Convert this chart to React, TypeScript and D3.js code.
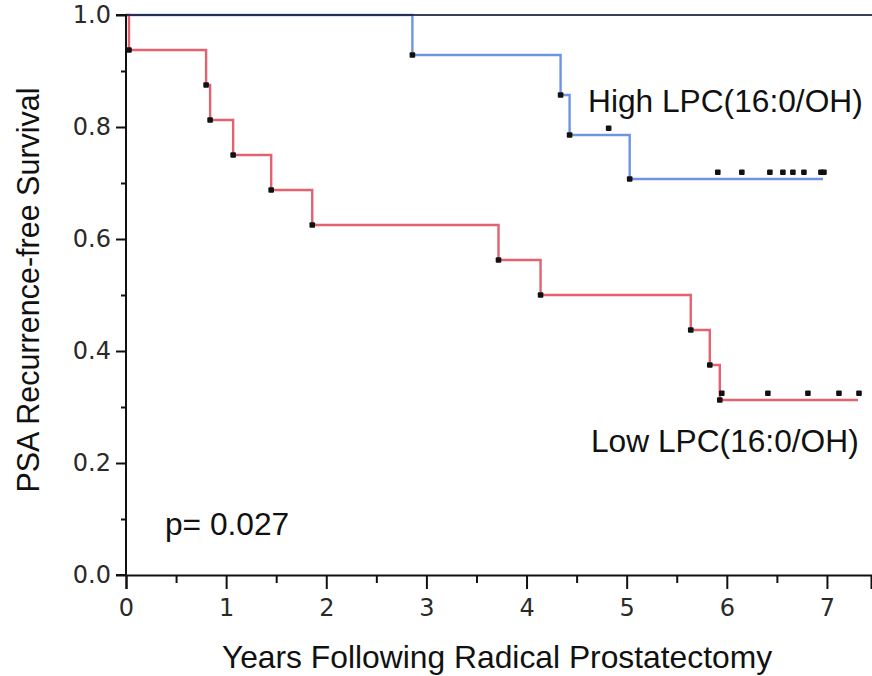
import React, { useEffect, useRef } from 'react';
import * as d3 from 'd3';

// Kaplan-Meier data
const highEventTimes = [2.86, 4.34, 4.43, 5.03];
const highSurvival = [0.9286, 0.8571, 0.7857, 0.7071];
const highCensorTimes = [4.82, 5.91, 6.15, 6.43, 6.56, 6.66, 6.77, 6.94, 6.97];
const highEnd = 6.96;

const lowEventTimes = [0.03, 0.8, 0.84, 1.07, 1.45, 1.86, 3.72, 4.14, 5.64, 5.83, 5.93];
const lowSurvival = [0.9375, 0.875, 0.8125, 0.75, 0.6875, 0.625, 0.5625, 0.5, 0.4375, 0.375, 0.3125];
const lowCensorTimes = [5.95, 6.41, 6.81, 7.12, 7.32];
const lowEnd = 7.31;

const xTicks = [0, 1, 2, 3, 4, 5, 6, 7];
const xMinorTicks = [0.5, 1.5, 2.5, 3.5, 4.5, 5.5, 6.5];
const yTicks = [0, 0.2, 0.4, 0.6, 0.8, 1.0];
const yMinorTicks = [0.1, 0.3, 0.5, 0.7, 0.9];

const W = 872;
const H = 676;

const App = () => {
  const svgRef = useRef<SVGSVGElement | null>(null);

  useEffect(() => {
    if (!svgRef.current) return;
    const svg = d3.select(svgRef.current);
    svg.selectAll('*').remove();

    const x = d3.scaleLinear().domain([0, 7.44]).range([126, 871]);
    const y = d3.scaleLinear().domain([0, 1]).range([575, 15]);

    const levelAt = (times: number[], surv: number[], t: number) => {
      let s = 1;
      times.forEach((tt, i) => { if (tt <= t) s = surv[i]; });
      return s;
    };

    const stepPoints = (times: number[], surv: number[], end: number) => {
      const pts: [number, number][] = [[0, 1]];
      times.forEach((t, i) => pts.push([t, surv[i]]));
      pts.push([end, surv[surv.length - 1]]);
      return pts;
    };

    const line = d3.line<[number, number]>()
      .x(d => x(d[0]))
      .y(d => y(d[1]))
      .curve(d3.curveStepAfter);

    const groups = [
      { times: highEventTimes, surv: highSurvival, cens: highCensorTimes, end: highEnd, color: '#6f94e6' },
      { times: lowEventTimes, surv: lowSurvival, cens: lowCensorTimes, end: lowEnd, color: '#e3626f' }
    ];

    groups.forEach(g => {
      svg.append('path')
        .attr('d', line(stepPoints(g.times, g.surv, g.end)))
        .attr('fill', 'none')
        .attr('stroke', g.color)
        .attr('stroke-width', 2.4);
    });

    // top frame line
    svg.append('line')
      .attr('x1', x(0)).attr('x2', W)
      .attr('y1', y(1)).attr('y2', y(1))
      .attr('stroke', '#1a1f3a')
      .attr('stroke-opacity', 0.85)
      .attr('stroke-width', 2);

    // axes
    const axisFont = '"DejaVu Sans", Verdana, sans-serif';
    const yAxis = svg.append('g')
      .attr('transform', `translate(${x(0)},0)`)
      .call(d3.axisLeft(y).tickValues(yTicks).tickFormat(d3.format('.1f')).tickSize(10).tickPadding(5));
    svg.append('g')
      .attr('transform', `translate(${x(0)},0)`)
      .call(d3.axisLeft(y).tickValues(yMinorTicks).tickFormat(() => '').tickSize(5))
      .call(g => g.select('.domain').remove());

    const xAxis = svg.append('g')
      .attr('transform', `translate(0,${y(0)})`)
      .call(d3.axisBottom(x).tickValues(xTicks).tickFormat(d3.format('d')).tickSize(14).tickPadding(10));
    svg.append('g')
      .attr('transform', `translate(0,${y(0)})`)
      .call(d3.axisBottom(x).tickValues(xMinorTicks).tickFormat(() => '').tickSize(8))
      .call(g => g.select('.domain').remove());

    [yAxis, xAxis].forEach(a => {
      a.select('.domain').attr('stroke', '#111').attr('stroke-width', 2);
      a.selectAll('text').attr('font-family', axisFont).attr('font-size', 24).attr('fill', '#2a2a2a');
    });
    svg.selectAll('.tick line').attr('stroke', '#111').attr('stroke-width', 2);
    yAxis.select('.domain').attr('d', `M-10,${y(1)}H0V${y(0)}H-10`);

    // markers: events at new level, censored slightly above
    groups.forEach(g => {
      svg.append('g').selectAll('rect.ev')
        .data(g.times.map((t, i) => [t, g.surv[i]] as [number, number]))
        .join('rect')
        .attr('x', d => x(d[0]) - 2.8)
        .attr('y', d => y(d[1]) - 2.8)
        .attr('width', 5.6).attr('height', 5.6)
        .attr('rx', 1)
        .attr('fill', '#111');
      svg.append('g').selectAll('rect.cn')
        .data(g.cens)
        .join('rect')
        .attr('x', t => x(t) - 2.8)
        .attr('y', t => y(levelAt(g.times, g.surv, t)) - 9.5)
        .attr('width', 5.6).attr('height', 5.6)
        .attr('rx', 1)
        .attr('fill', '#111');
    });

    const textFont = '"Liberation Sans", Arial, sans-serif';
    const addText = (tx: number, ty: number, str: string, size: number) =>
      svg.append('text')
        .attr('x', tx).attr('y', ty)
        .attr('font-family', textFont)
        .attr('font-size', size)
        .attr('fill', '#111')
        .text(str);

    addText(588, 112, 'High LPC(16:0/OH)', 31.7);
    addText(591, 452, 'Low LPC(16:0/OH)', 31.7);
    addText(165, 535, 'p= 0.027', 31.7);

    svg.append('text')
      .attr('x', 497).attr('y', 668)
      .attr('text-anchor', 'middle')
      .attr('font-family', textFont)
      .attr('font-size', 31.8)
      .attr('fill', '#111')
      .text('Years Following Radical Prostatectomy');

    svg.append('text')
      .attr('transform', `translate(39,${290}) rotate(-90)`)
      .attr('text-anchor', 'middle')
      .attr('font-family', textFont)
      .attr('font-size', 30.5)
      .attr('fill', '#111')
      .text('PSA Recurrence-free Survival');
  }, []);

  return (
    <svg
      ref={svgRef}
      width={W}
      height={H}
      viewBox={`0 0 ${W} ${H}`}
      style={{ position: 'absolute', left: 0, top: 0, background: '#fff' }}
    />
  );
};

export default App;
